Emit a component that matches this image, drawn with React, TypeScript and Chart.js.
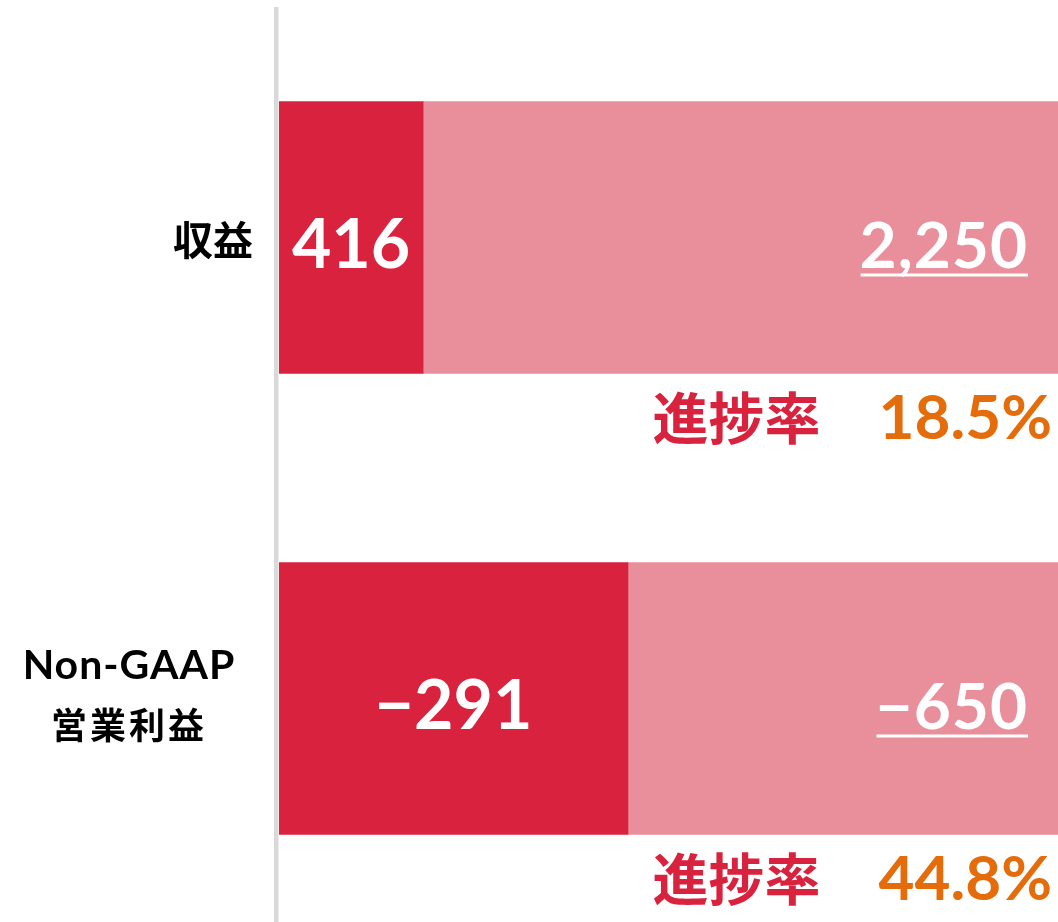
import React, { useEffect, useRef } from 'react';
import { Chart, registerables } from 'chart.js';

Chart.register(...registerables);

// ---- data ----
const categories: string[][] = [['収益'], ['Non-GAAP', '営業利益']];
const actualValues: number[] = [416, -291];
const planValues: number[] = [2250, -650];
const progressRates: number[] = [18.5, 44.8];
const progressLabel = '進捗率';

// ---- styles ----
const DARK = '#d9233e';
const PINK = '#e98f9b';
const ORANGE = '#e46c0a';
const AXIS_GRAY = '#d9d9d9';
const LATIN = "Lato, 'Noto Sans CJK JP', sans-serif";
const CJK = "'Noto Sans CJK JP', sans-serif";

function fmt(v: number): string {
  const s = Math.abs(v).toLocaleString('en-US');
  return v < 0 ? '\u2212' + s : s;
}

const overlayPlugin = {
  id: 'overlay',
  beforeDatasetsDraw(chart: any) {
    const { ctx, chartArea } = chart;
    ctx.save();
    ctx.fillStyle = AXIS_GRAY;
    ctx.fillRect(chartArea.left - 5, chartArea.top, 4.5, chartArea.bottom - chartArea.top);
    ctx.restore();
  },
  afterDatasetsDraw(chart: any) {
    const { ctx, chartArea } = chart;
    const meta = chart.getDatasetMeta(0);
    ctx.save();
    categories.forEach((lines, i) => {
      const bar = meta.data[i];
      const { x, y, base, height } = bar.getProps(['x', 'y', 'base', 'height'], true);

      // category label
      ctx.fillStyle = '#000';
      if (lines.length === 1) {
        ctx.font = `bold 40px ${CJK}`;
        ctx.letterSpacing = '0px';
        ctx.textAlign = 'right';
        ctx.textBaseline = 'middle';
        ctx.fillText(lines[0], chartArea.left - 26, y + 2);
      } else {
        const cx = chartArea.left - 151;
        ctx.textAlign = 'center';
        ctx.font = `bold 41px ${LATIN}`;
        ctx.letterSpacing = '1px';
        ctx.textBaseline = 'alphabetic';
        ctx.fillText(lines[0], cx + 1, y - 20);
        ctx.font = `bold 36px ${CJK}`;
        ctx.letterSpacing = '3px';
        ctx.textBaseline = 'middle';
        ctx.fillText(lines[1], cx + 1, y + 27);
      }
      ctx.letterSpacing = '0px';

      // actual value in the dark bar
      ctx.fillStyle = '#fff';
      ctx.font = `bold 68px ${LATIN}`;
      ctx.textAlign = 'center';
      ctx.textBaseline = 'alphabetic';
      ctx.fillText(fmt(actualValues[i]), (base + x) / 2, y + 30);

      // plan value, underlined, in the light bar
      ctx.font = `bold 64px ${LATIN}`;
      ctx.letterSpacing = '1px';
      ctx.textAlign = 'right';
      const planText = fmt(planValues[i]);
      const right = chartArea.right - 30;
      ctx.fillText(planText, right, y + 30);
      const w = ctx.measureText(planText).width;
      ctx.letterSpacing = '0px';
      ctx.fillRect(right - w + 1, y + 36, w - 1, 3);

      // progress rate below bar
      const bottom = y + height / 2;
      const cy = bottom + 43;
      ctx.font = `bold 62px ${LATIN}`;
      ctx.fillStyle = ORANGE;
      ctx.textAlign = 'right';
      ctx.textBaseline = 'alphabetic';
      const rateText = progressRates[i].toFixed(1) + '%';
      const rateRight = chartArea.right - 6;
      ctx.fillText(rateText, rateRight, cy + 22);
      const rw = ctx.measureText(rateText).width;
      ctx.font = `bold 56px ${CJK}`;
      ctx.fillStyle = DARK;
      ctx.textBaseline = 'middle';
      ctx.fillText(progressLabel, rateRight - rw - 58, cy + 1);
    });
    ctx.restore();
  },
};

export default function App() {
  const ref = useRef<HTMLCanvasElement | null>(null);
  useEffect(() => {
    document.body.style.margin = '0';
    const canvas = ref.current;
    if (!canvas) return;
    const chart = new Chart(canvas, {
      type: 'bar',
      data: {
        labels: categories.map((c) => c.join(' ')),
        datasets: [
          {
            label: 'actual',
            data: progressRates,
            backgroundColor: DARK,
            borderWidth: 0,
            barThickness: 272,
          },
          {
            label: 'remaining',
            data: progressRates.map((r) => 100 - r),
            backgroundColor: PINK,
            borderWidth: 0,
            barThickness: 272,
          },
        ],
      },
      options: {
        indexAxis: 'y',
        animation: false,
        responsive: false,
        devicePixelRatio: 1,
        layout: { padding: { top: 7, left: 0, right: 0, bottom: 0 } },
        plugins: {
          legend: { display: false },
          tooltip: { enabled: false },
          title: { display: false },
        },
        scales: {
          x: { stacked: true, min: 0, max: 100, display: false },
          y: {
            stacked: true,
            grid: { display: false },
            border: { display: false },
            ticks: { display: false },
            afterFit: (scale: any) => {
              scale.width = 279;
            },
          },
        },
      },
      plugins: [overlayPlugin],
    } as any);
    return () => chart.destroy();
  }, []);
  return (
    <div style={{ width: 1058, height: 922, overflow: 'hidden', background: '#fff' }}>
      <canvas ref={ref} width={1058} height={929} style={{ display: 'block' }} />
    </div>
  );
}
